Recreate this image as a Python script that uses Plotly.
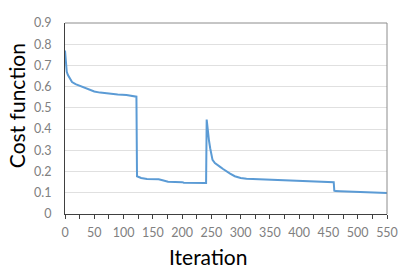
import plotly.graph_objects as go

iterations = [0, 1, 2, 3, 5, 8, 12, 18, 25, 32, 40, 50, 60, 75, 90, 105, 120, 122,
              123, 125, 130, 140, 160, 165, 170, 176, 200, 203, 240, 241,
              242, 244, 246, 248, 250, 252, 256, 260, 265, 270, 276, 282, 290,
              300, 310, 330, 360, 395, 435, 459, 460, 462, 470, 500, 520, 550]
cost = [0.77, 0.72, 0.69, 0.67, 0.655, 0.64, 0.622, 0.612, 0.605, 0.597, 0.59, 0.577,
        0.572, 0.566, 0.563, 0.561, 0.556, 0.553,
        0.178, 0.175, 0.17, 0.165, 0.164, 0.16, 0.158, 0.152, 0.15, 0.147, 0.146, 0.146,
        0.445, 0.38, 0.345, 0.31, 0.28, 0.255, 0.24, 0.23, 0.222, 0.212, 0.2, 0.19, 0.178,
        0.17, 0.166, 0.164, 0.158, 0.155, 0.152, 0.15, 0.11, 0.108, 0.107, 0.103, 0.102, 0.099]

x_ticks = list(range(0, 551, 50))
y_ticks = [0, 0.1, 0.2, 0.3, 0.4, 0.5, 0.6, 0.7, 0.8, 0.9]
y_labels = ["0", "0.1", "0.2", "0.3", "0.4", "0.5", "0.6", "0.7", "0.8", "0.9"]
x_title = "Iteration"
y_title = "Cost function"

font = "Lato"

fig = go.Figure()
fig.add_trace(go.Scatter(x=iterations, y=cost, mode="lines",
                         line=dict(color="#5B9BD5", width=2), showlegend=False))

fig.update_layout(
    width=400, height=270,
    margin=dict(l=65, r=13, t=23, b=56),
    paper_bgcolor="white", plot_bgcolor="white",
    font=dict(family=font, color="#808080", size=12.5),
    xaxis=dict(range=[0, 550], tickvals=x_ticks, showgrid=False, zeroline=False,
               automargin=False,
               showline=True, linecolor="#404040", linewidth=1,
               ticks="outside", ticklen=4, tickcolor="#404040", tickwidth=1,
               ticklabelstandoff=3,
               minor=dict(dtick=25, ticks="outside", ticklen=4, tickcolor="#404040", tickwidth=1),
               tickfont=dict(size=12.5, color="#808080", family=font)),
    yaxis=dict(range=[0, 0.9], tickvals=y_ticks, ticktext=y_labels,
               showgrid=True, gridcolor="#e0e0e0", gridwidth=1, zeroline=False,
               automargin=False,
               showline=True, linecolor="#404040", linewidth=1,
               ticks="", ticklabelstandoff=10,
               tickfont=dict(size=12.5, color="#808080", family=font)),
    shapes=[
        dict(type="line", xref="x domain", yref="y domain", x0=0, x1=1, y0=1, y1=1,
             line=dict(color="#8c8c8c", width=1)),
        dict(type="line", xref="x domain", yref="y domain", x0=1, x1=1, y0=0, y1=1,
             line=dict(color="#8c8c8c", width=1)),
    ],
    annotations=[
        dict(text=x_title, xref="paper", yref="paper", x=0.4455, y=-0.22,
             xanchor="center", yanchor="middle", showarrow=False,
             font=dict(size=21, color="black", family=font)),
        dict(text=y_title, xref="paper", yref="paper", x=-0.152, y=0.565,
             xanchor="center", yanchor="middle", showarrow=False, textangle=-90,
             font=dict(size=21, color="black", family=font)),
    ],
)

fig.write_html("out.html", config={"displayModeBar": False},
               post_script="document.body.style.margin='0';")
